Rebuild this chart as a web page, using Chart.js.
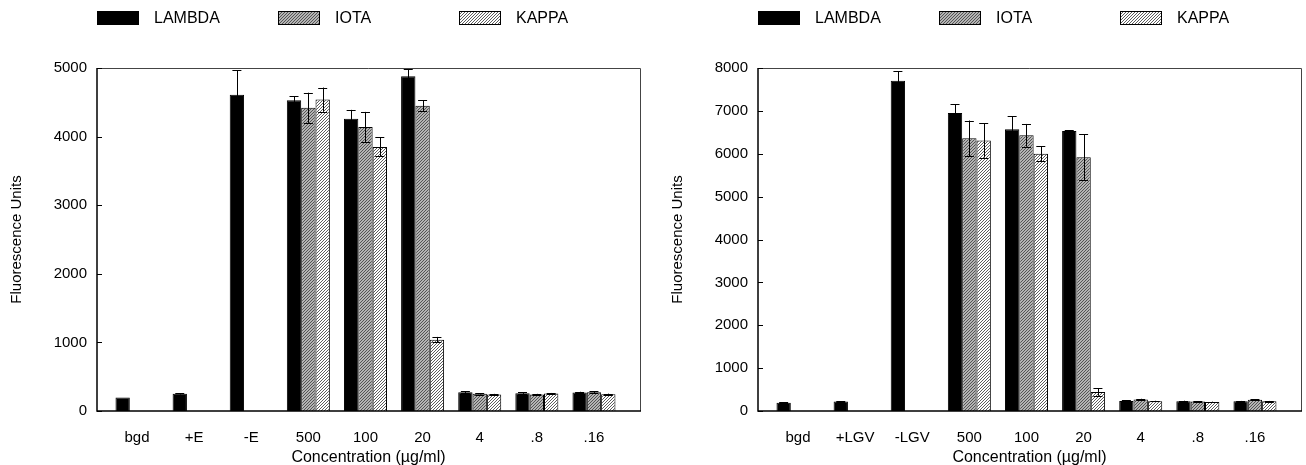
<!DOCTYPE html>
<html>
<head>
<meta charset="utf-8">
<script src="https://cdn.jsdelivr.net/npm/chart.js@4.4.1/dist/chart.umd.min.js"></script>
<style>
body { margin: 0; background: #fff; width: 1306px; height: 465px; position: relative; overflow: hidden; }
.box { position: absolute; top: 0; width: 645px; height: 465px; }
</style>
</head>
<body>
<div class="box" style="left:0"><canvas id="graph1" width="645" height="465"></canvas></div>
<div class="box" style="left:661px"><canvas id="graph2" width="645" height="465"></canvas></div>
<script>
// ---- data ----
const seriesNames = ["LAMBDA", "IOTA", "KAPPA"]

const categoriesE = ["bgd", "+E", "-E", "500", "100", "20", "4", ".8", ".16"]
const lambdaE    = [195, 250, 4610, 4530, 4260, 4880, 275, 260, 270]
const lambdaErrE = [0, 10, 360, 60, 130, 110, 12, 10, 10]
const iotaE      = [null, null, null, 4420, 4140, 4450, 250, 240, 275]
const iotaErrE   = [0, 0, 0, 220, 220, 80, 10, 10, 12]
const kappaE     = [null, null, null, 4540, 3850, 1040, 240, 255, 245]
const kappaErrE  = [0, 0, 0, 175, 140, 40, 10, 8, 8]
const ticksE     = [0, 1000, 2000, 3000, 4000, 5000]

const categoriesL = ["bgd", "+LGV", "-LGV", "500", "100", "20", "4", ".8", ".16"]
const lambdaL    = [190, 220, 7700, 6950, 6570, 6530, 235, 230, 225]
const lambdaErrL = [10, 10, 230, 210, 300, 15, 10, 10, 10]
const iotaL      = [null, null, null, 6360, 6430, 5920, 270, 220, 260]
const iotaErrL   = [0, 0, 0, 415, 265, 540, 15, 8, 15]
const kappaL     = [null, null, null, 6310, 6000, 445, 230, 210, 225]
const kappaErrL  = [0, 0, 0, 400, 170, 90, 8, 8, 10]
const ticksL     = [0, 1000, 2000, 3000, 4000, 5000, 6000, 7000, 8000]

const FONT = '"Liberation Sans", Arial, sans-serif'
Chart.defaults.font.family = FONT
Chart.defaults.font.size = 15
Chart.defaults.color = "#000"

// hatch fills
const makePattern = (bg, line, lw) => {
    let c = document.createElement("canvas")
    c.width = 6; c.height = 6
    let x = c.getContext("2d")
    x.fillStyle = bg
    x.fillRect(0, 0, 6, 6)
    x.strokeStyle = line
    x.lineWidth = lw
    for (let k = -6; k <= 12; k += 3) {
        x.beginPath()
        x.moveTo(k, 0)
        x.lineTo(k - 6, 6)
        x.stroke()
    }
    return x.createPattern(c, "repeat")
}
const iotaFill = makePattern("#b4b4b4", "#4a4a4a", 0.9)
const kappaFill = makePattern("#fff", "#333", 0.8)
const fills = ["#000", iotaFill, kappaFill]

const toXY = vals => vals.map((v, i) => ({ x: i, y: v }))

// frame, inner y ticks, error bars, legend row
const figurePlugin = {
    id: "figure",
    afterDatasetsDraw(chart) {
        let ctx = chart.ctx, a = chart.chartArea, ys = chart.scales.y
        ctx.save()
        // error bars
        chart.data.datasets.forEach((ds, i) => {
            let meta = chart.getDatasetMeta(i)
            meta.data.forEach((bar, j) => {
                let v = ds.data[j].y, e = ds.errors[j]
                if (v == null || !e) return
                let top = ys.getPixelForValue(v + e), bot = ys.getPixelForValue(v - e)
                ctx.strokeStyle = "#000"
                ctx.lineWidth = 1
                ctx.beginPath()
                ctx.moveTo(Math.round(bar.x) + 0.5, top)
                ctx.lineTo(Math.round(bar.x) + 0.5, bot)
                ctx.moveTo(bar.x - 4.5, Math.round(top) + 0.5)
                ctx.lineTo(bar.x + 4.5, Math.round(top) + 0.5)
                ctx.moveTo(bar.x - 4.5, Math.round(bot) + 0.5)
                ctx.lineTo(bar.x + 4.5, Math.round(bot) + 0.5)
                ctx.stroke()
            })
        })
        // frame
        ctx.strokeStyle = "#444"
        ctx.lineWidth = 1
        ctx.beginPath()
        ctx.moveTo(a.left, a.top + 0.5)
        ctx.lineTo(a.right + 0.5, a.top + 0.5)
        ctx.lineTo(a.right + 0.5, a.bottom)
        ctx.stroke()
        ctx.strokeStyle = "#000"
        ctx.lineWidth = 1.5
        ctx.beginPath()
        ctx.moveTo(a.left, a.top)
        ctx.lineTo(a.left, a.bottom)
        ctx.lineTo(a.right + 1, a.bottom)
        ctx.stroke()
        ctx.lineWidth = 1
        ys.ticks.forEach(t => {
            let y = Math.round(ys.getPixelForValue(t.value)) + 0.5
            ctx.beginPath()
            ctx.moveTo(a.left, y)
            ctx.lineTo(a.left + 5, y)
            ctx.stroke()
        })
        ctx.restore()
    },
    afterDraw(chart) {
        let ctx = chart.ctx, a = chart.chartArea
        ctx.save()
        chart.data.datasets.forEach((ds, i) => {
            let x = a.left + i * 181
            ctx.fillStyle = ds.backgroundColor
            ctx.fillRect(x, 11, 42, 14)
            ctx.strokeStyle = "#000"
            ctx.lineWidth = 1
            ctx.strokeRect(x + 0.5, 11.5, 41, 13)
            ctx.fillStyle = "#000"
            ctx.font = "16px " + FONT
            ctx.textBaseline = "middle"
            ctx.fillText(ds.label, x + 57, 19)
        })
        ctx.restore()
    }
}

const makeChart = (id, cats, series, errs, yTicks) => {
    let yMax = yTicks[yTicks.length - 1]
    return new Chart(I(id).getContext("2d"), {
        type: "bar",
        data: {
            datasets: series.map((s, i) => ({
                label: seriesNames[i],
                data: toXY(s),
                errors: errs[i],
                backgroundColor: fills[i],
                borderColor: "#000",
                borderWidth: 1,
                categoryPercentage: 0.753,
                barPercentage: 1
            }))
        },
        options: {
            responsive: false,
            animation: false,
            events: [],
            layout: { padding: { top: 68, right: 5, left: 0, bottom: 0 } },
            plugins: { legend: { display: false }, tooltip: { enabled: false } },
            scales: {
                x: {
                    type: "linear",
                    min: -0.7,
                    max: 8.806,
                    offset: false,
                    grid: { display: false, drawTicks: false },
                    border: { display: false },
                    afterBuildTicks: s => { s.ticks = cats.map((c, i) => ({ value: i })) },
                    afterFit: s => { s.height = 54 },
                    ticks: { callback: v => cats[v], padding: 18, autoSkip: false, maxRotation: 0 },
                    title: { display: true, text: "Concentration (µg/ml)", font: { size: 16 }, padding: { top: 0, bottom: -2 } }
                },
                y: {
                    min: 0,
                    max: yMax,
                    afterBuildTicks: s => { s.ticks = yTicks.map(v => ({ value: v })) },
                    grid: { display: false, drawTicks: false },
                    border: { display: false },
                    afterFit: s => { s.width = 97 },
                    ticks: { padding: 10, callback: v => String(v) },
                    title: { display: true, text: "Fluorescence Units", padding: { top: 8, bottom: 0 } }
                }
            }
        },
        plugins: [figurePlugin]
    })
}

const I = (id) => document.getElementById(id)

var chartE = makeChart("graph1", categoriesE, [lambdaE, iotaE, kappaE], [lambdaErrE, iotaErrE, kappaErrE], ticksE)
var chartL = makeChart("graph2", categoriesL, [lambdaL, iotaL, kappaL], [lambdaErrL, iotaErrL, kappaErrL], ticksL)
</script>
</body>
</html>
